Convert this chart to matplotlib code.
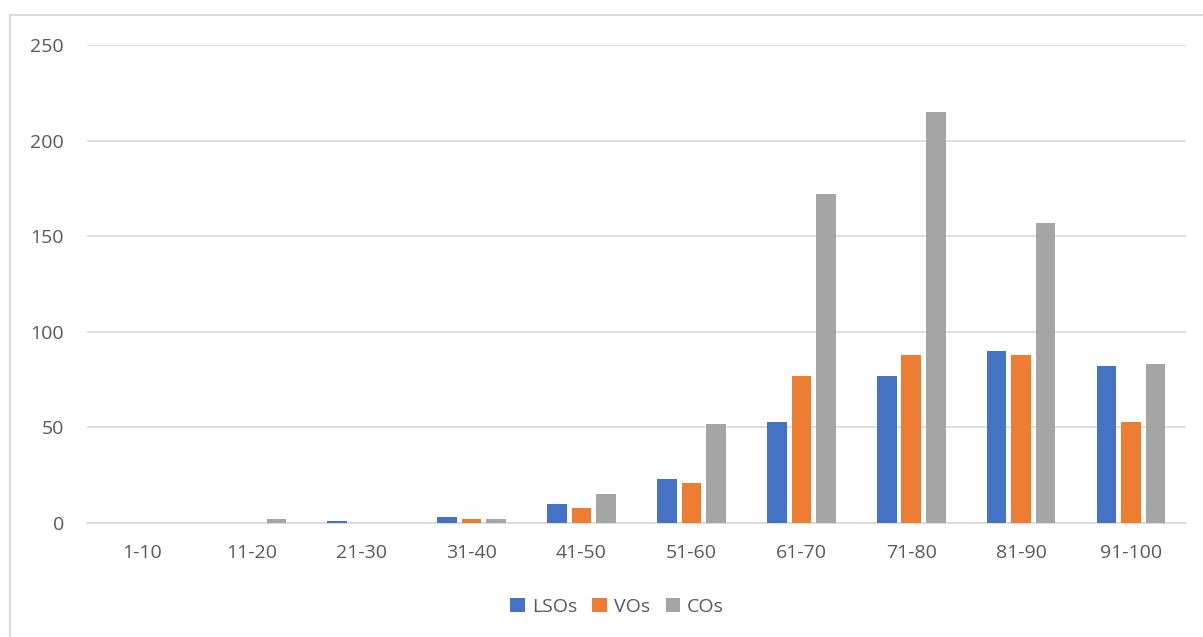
import numpy as np
import matplotlib
matplotlib.use("Agg")
import matplotlib.pyplot as plt
from matplotlib.patches import Rectangle

categories = ["1-10", "11-20", "21-30", "31-40", "41-50", "51-60",
              "61-70", "71-80", "81-90", "91-100"]
lsos = [0, 0, 1, 3, 10, 23, 53, 77, 90, 82]
vos = [0, 0, 0, 2, 8, 21, 77, 88, 88, 53]
cos = [0, 2, 0, 2, 15, 52, 172, 215, 157, 83]
series_names = ["LSOs", "VOs", "COs"]
colors = ["#4472C4", "#ED7D31", "#A5A5A5"]
y_ticks = [0, 50, 100, 150, 200, 250]

plt.rcParams["font.family"] = ["Open Sans", "DejaVu Sans"]
text_color = "#595959"
grid_color = "#D9D9D9"

fig = plt.figure(figsize=(12.03, 6.37), dpi=100)
ax = fig.add_axes([87 / 1203, 1 - 523 / 637, (1186 - 87) / 1203, (523 - 45) / 637])

# chart frame
fig.patches.append(Rectangle((10 / 1203, -0.01), 1.0, 1 - 15 / 637 + 0.01,
                             transform=fig.transFigure, fill=False,
                             edgecolor=grid_color, linewidth=1.3))

x = np.arange(len(categories))
width = 0.178
step = 0.223
for i, (vals, name, col) in enumerate(zip([lsos, vos, cos], series_names, colors)):
    ax.bar(x + (i - 1) * step, vals, width=width, color=col, label=name, zorder=3)

ax.set_xlim(-0.5, len(categories) - 0.5)
ax.set_ylim(0, 250)
ax.set_yticks(y_ticks)
ax.set_xticks(x)
ax.set_xticklabels(categories)
ax.yaxis.grid(True, color=grid_color, linewidth=1.2, zorder=0)
for s in ["top", "right", "left"]:
    ax.spines[s].set_visible(False)
ax.spines["bottom"].set_color(grid_color)
ax.spines["bottom"].set_linewidth(1.2)
ax.tick_params(axis="both", length=0, labelsize=14, colors=text_color)
ax.tick_params(axis="y", pad=16.5)
ax.tick_params(axis="x", pad=15)

leg = fig.legend(loc="center", bbox_to_anchor=(617 / 1203, 1 - 607 / 637), ncol=3,
                 frameon=False, fontsize=14, handlelength=0.75, handleheight=0.75,
                 columnspacing=0.8, handletextpad=0.35)
for t in leg.get_texts():
    t.set_color(text_color)

fig.savefig("out.png", dpi=100)
